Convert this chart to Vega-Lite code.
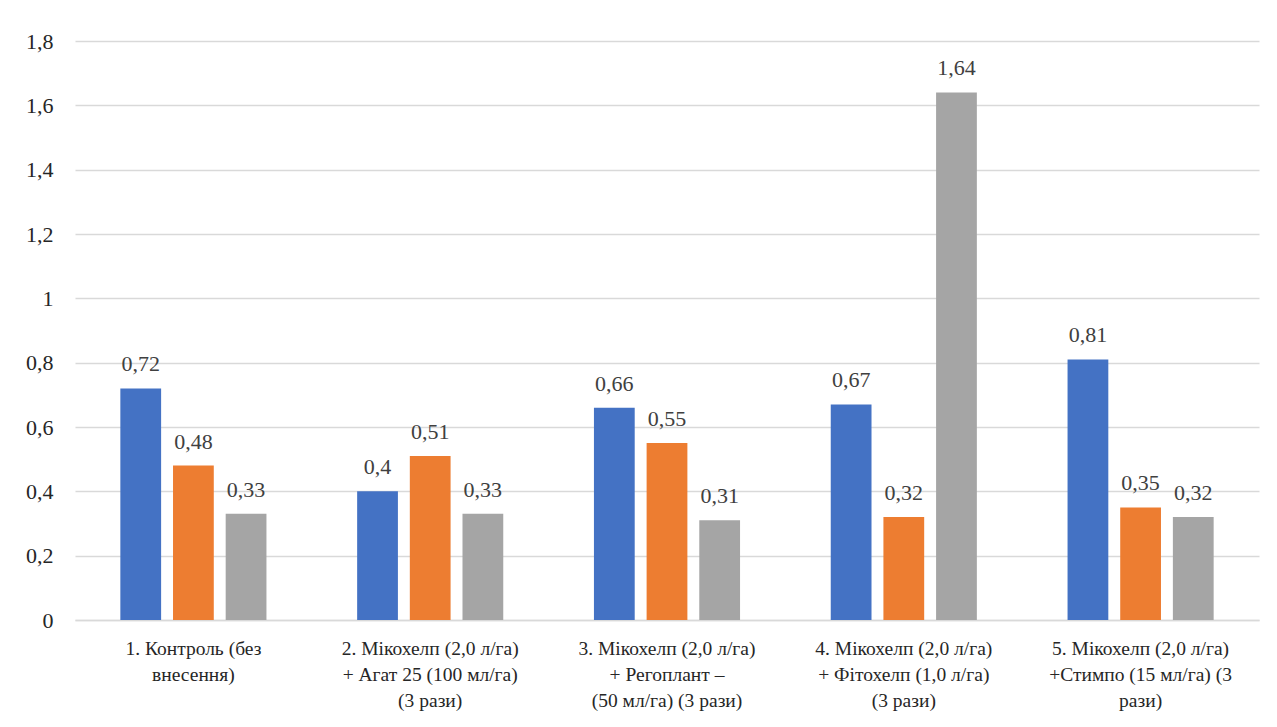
{
  "$schema": "https://vega.github.io/schema/vega-lite/v6.json",
  "width": 1184,
  "height": 579,
  "autosize": {"type": "none"},
  "padding": {"left": 75, "top": 41, "right": 18, "bottom": 107},
  "background": "white",
  "config": {
    "locale": {
      "number": {"decimal": ",", "thousands": " ", "grouping": [3], "currency": ["", ""]}
    },
    "font": "Liberation Serif",
    "view": {"stroke": null}
  },
  "data": {
    "values": [
      {"variant": "1. Контроль (без|внесення)", "series": "Ряд 1", "value": 0.72},
      {"variant": "1. Контроль (без|внесення)", "series": "Ряд 2", "value": 0.48},
      {"variant": "1. Контроль (без|внесення)", "series": "Ряд 3", "value": 0.33},
      {"variant": "2. Мікохелп (2,0 л/га)|+ Агат 25 (100 мл/га)|(3 рази)", "series": "Ряд 1", "value": 0.4},
      {"variant": "2. Мікохелп (2,0 л/га)|+ Агат 25 (100 мл/га)|(3 рази)", "series": "Ряд 2", "value": 0.51},
      {"variant": "2. Мікохелп (2,0 л/га)|+ Агат 25 (100 мл/га)|(3 рази)", "series": "Ряд 3", "value": 0.33},
      {"variant": "3. Мікохелп (2,0 л/га)|+ Регоплант –|(50 мл/га) (3 рази)", "series": "Ряд 1", "value": 0.66},
      {"variant": "3. Мікохелп (2,0 л/га)|+ Регоплант –|(50 мл/га) (3 рази)", "series": "Ряд 2", "value": 0.55},
      {"variant": "3. Мікохелп (2,0 л/га)|+ Регоплант –|(50 мл/га) (3 рази)", "series": "Ряд 3", "value": 0.31},
      {"variant": "4. Мікохелп (2,0 л/га)|+ Фітохелп (1,0 л/га)|(3 рази)", "series": "Ряд 1", "value": 0.67},
      {"variant": "4. Мікохелп (2,0 л/га)|+ Фітохелп (1,0 л/га)|(3 рази)", "series": "Ряд 2", "value": 0.32},
      {"variant": "4. Мікохелп (2,0 л/га)|+ Фітохелп (1,0 л/га)|(3 рази)", "series": "Ряд 3", "value": 1.64},
      {"variant": "5. Мікохелп (2,0 л/га)|+Стимпо (15 мл/га) (3|рази)", "series": "Ряд 1", "value": 0.81},
      {"variant": "5. Мікохелп (2,0 л/га)|+Стимпо (15 мл/га) (3|рази)", "series": "Ряд 2", "value": 0.35},
      {"variant": "5. Мікохелп (2,0 л/га)|+Стимпо (15 мл/га) (3|рази)", "series": "Ряд 3", "value": 0.32}
    ]
  },
  "encoding": {
    "x": {
      "field": "variant",
      "type": "nominal",
      "sort": null,
      "scale": {"paddingInner": 0.383, "paddingOuter": 0.1915},
      "axis": {
        "title": null,
        "labelAngle": 0,
        "labelExpr": "split(datum.label, '|')",
        "labelFont": "Liberation Serif",
        "labelFontSize": 19.5,
        "labelColor": "#262626",
        "labelLineHeight": 26,
        "labelPadding": 19,
        "labelLimit": 300,
        "ticks": false,
        "domainColor": "#d9d9d9",
        "domainWidth": 1.5
      }
    },
    "xOffset": {
      "field": "series",
      "type": "nominal",
      "scale": {"paddingInner": 0.226, "paddingOuter": 0}
    },
    "y": {
      "field": "value",
      "type": "quantitative",
      "scale": {"domain": [0, 1.8]},
      "axis": {
        "title": null,
        "values": [0, 0.2, 0.4, 0.6, 0.8, 1, 1.2, 1.4, 1.6, 1.8],
        "format": "~g",
        "labelFont": "Liberation Serif",
        "labelFontSize": 22,
        "labelColor": "#262626",
        "labelPadding": 22,
        "ticks": false,
        "domain": false,
        "gridColor": "#d9d9d9",
        "gridWidth": 1.5
      }
    }
  },
  "layer": [
    {
      "mark": {"type": "bar"},
      "encoding": {
        "color": {
          "field": "series",
          "type": "nominal",
          "scale": {"range": ["#4472c4", "#ed7d31", "#a5a5a5"]},
          "legend": null
        }
      }
    },
    {
      "mark": {
        "type": "text",
        "baseline": "bottom",
        "dy": -12,
        "font": "Liberation Serif",
        "fontSize": 22,
        "color": "#404040"
      },
      "encoding": {
        "text": {"field": "value", "type": "quantitative", "format": "~g"}
      }
    }
  ]
}
